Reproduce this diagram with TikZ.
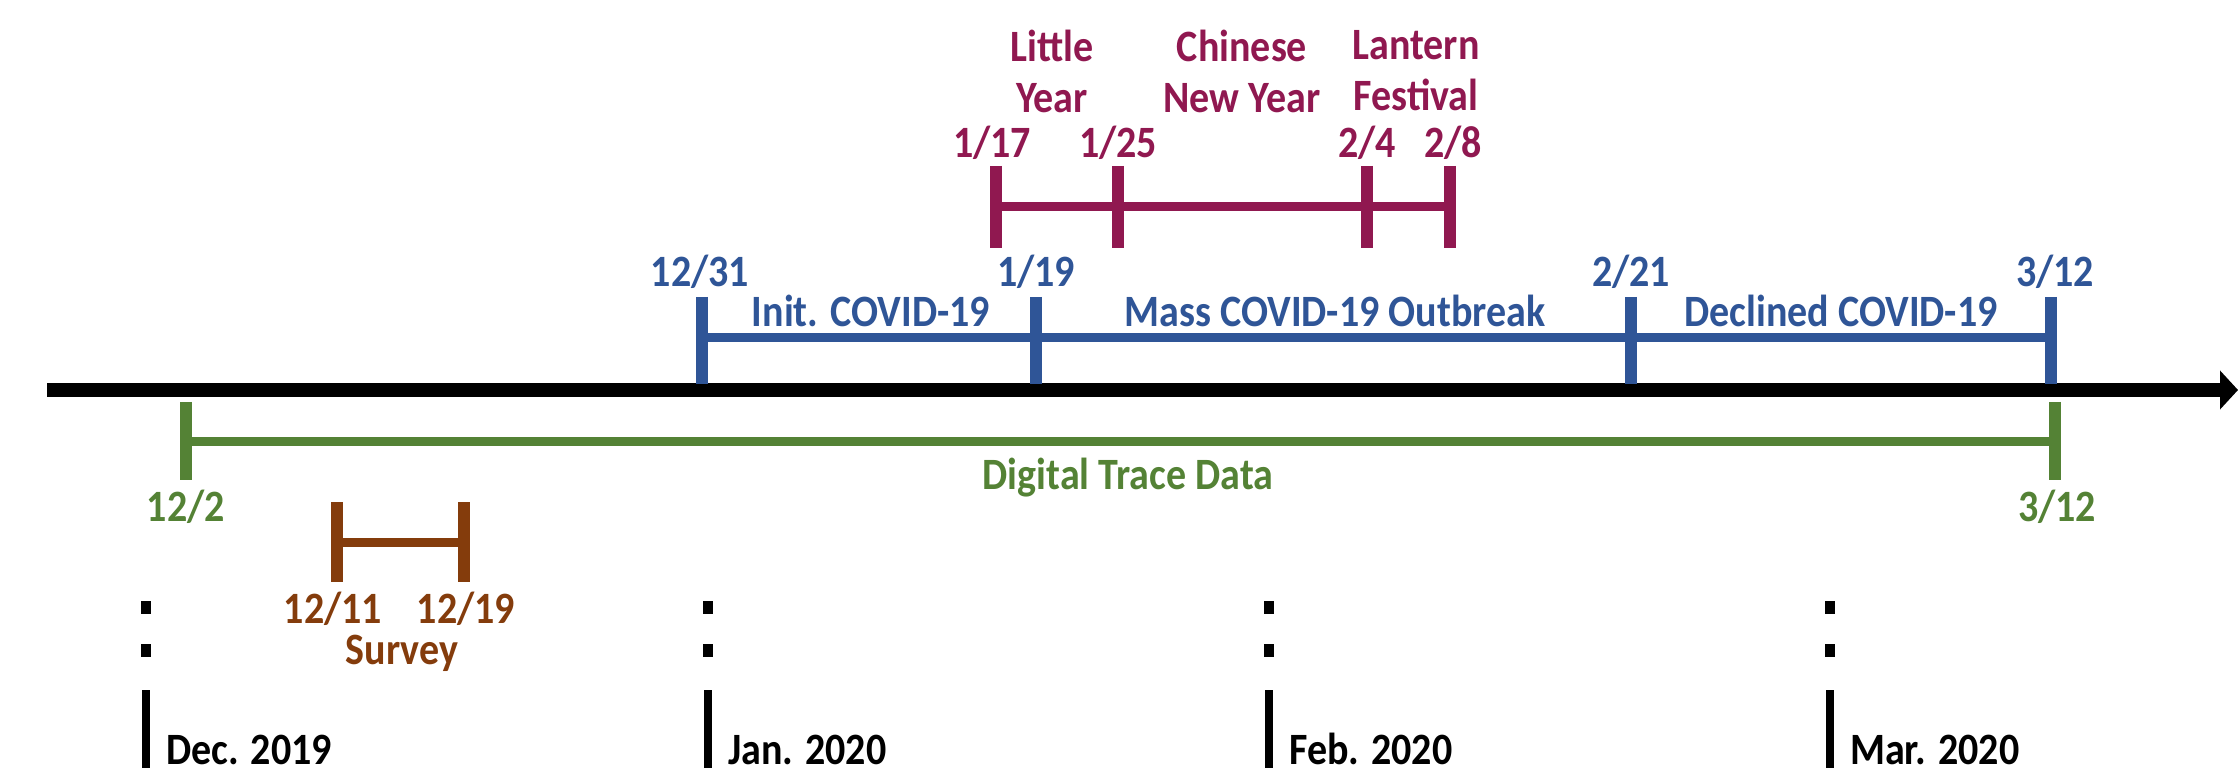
\documentclass[tikz,border=0pt]{standalone}
\usepackage{graphicx}
\usepackage{fontspec}
\setmainfont{Carlito}
\usetikzlibrary{arrows.meta}
\definecolor{cblue}{RGB}{47,85,151}
\definecolor{cpurple}{RGB}{144,24,80}
\definecolor{cgreen}{RGB}{84,130,53}
\definecolor{cbrown}{RGB}{132,60,12}
\newcommand{\vst}[1]{\scalebox{1}[1.12]{#1}}
\begin{document}
\begin{tikzpicture}[x=1pt,y=-1pt,
  lbl/.style={font=\bfseries\fontsize{40}{51}\selectfont, inner sep=0pt, align=center},
  mlbl/.style={font=\bfseries\fontsize{40}{44}\selectfont, inner sep=0pt, anchor=base west},
  tickline/.style={line width=12pt},
  spanline/.style={line width=9pt},
  monthbar/.style={line width=8pt},
  dotmark/.style={fill=black, draw=none}]
\useasboundingbox (0,0) rectangle (2238,775);

% main axis
\coordinate (axL) at (47,390);
\coordinate (axR) at (2238,390);
\draw[line width=14pt, -{Triangle[length=18pt,width=38pt]}] (axL) -- (axR);

% blue periods
\foreach \n/\x in {b1/702, b2/1036, b3/1631, b4/2051}{
  \coordinate (\n t) at (\x,297);
  \coordinate (\n b) at (\x,384);
  \coordinate (\n m) at (\x,338);
}
\draw[cblue, spanline] (b1m) -- (b4m);
\foreach \n in {b1,b2,b3,b4}{ \draw[cblue, tickline] (\n t) -- (\n b); }
\node[lbl, text=cblue] (lb1) at (700,272) {\vst{12/31}};
\node[lbl, text=cblue] (lb2) at (1036,272) {\vst{1/19}};
\node[lbl, text=cblue] (lb3) at (1631,272) {\vst{2/21}};
\node[lbl, text=cblue] (lb4) at (2055,272) {\vst{3/12}};
\node[lbl, text=cblue] (sb1) at (871,311) {\vst{Init. COVID-19}};
\node[lbl, text=cblue] (sb2) at (1335,311) {\vst{Mass COVID-19 Outbreak}};
\node[lbl, text=cblue] (sb3) at (1841,311) {\vst{Declined COVID-19}};

% purple festivals
\foreach \n/\x in {p1/996, p2/1118, p3/1367, p4/1450}{
  \coordinate (\n t) at (\x,166);
  \coordinate (\n b) at (\x,248);
  \coordinate (\n m) at (\x,207);
}
\draw[cpurple, spanline] (p1m) -- (p4m);
\foreach \n in {p1,p2,p3,p4}{ \draw[cpurple, tickline] (\n t) -- (\n b); }
\node[lbl, text=cpurple] (lp1) at (992,143) {\vst{1/17}};
\node[lbl, text=cpurple] (lp2) at (1118,143) {\vst{1/25}};
\node[lbl, text=cpurple] (lp3) at (1367,143) {\vst{2/4}};
\node[lbl, text=cpurple] (lp4) at (1453,143) {\vst{2/8}};
\node[lbl, text=cpurple] (fp1) at (1052,71) {\vst{Little}\\\vst{Year}};
\node[lbl, text=cpurple] (fp2) at (1242,71) {\vst{Chinese}\\\vst{New Year}};
\node[lbl, text=cpurple] (fp3) at (1416,71) {\vst{Lantern}\\\vst{Festival}};

% green digital trace data
\foreach \n/\x in {g1/186, g2/2055}{
  \coordinate (\n t) at (\x,402);
  \coordinate (\n b) at (\x,480);
  \coordinate (\n m) at (\x,441);
}
\draw[cgreen, spanline] (g1m) -- (g2m);
\foreach \n in {g1,g2}{ \draw[cgreen, tickline] (\n t) -- (\n b); }
\node[lbl, text=cgreen] (lg1) at (186,507) {\vst{12/2}};
\node[lbl, text=cgreen] (lg2) at (2057,507) {\vst{3/12}};
\node[lbl, text=cgreen] (sg) at (1128,478) {\vst{Digital Trace Data}};

% brown survey
\foreach \n/\x in {s1/337, s2/464}{
  \coordinate (\n t) at (\x,502);
  \coordinate (\n b) at (\x,582);
  \coordinate (\n m) at (\x,542);
}
\draw[cbrown, spanline] (s1m) -- (s2m);
\foreach \n in {s1,s2}{ \draw[cbrown, tickline] (\n t) -- (\n b); }
\node[lbl, text=cbrown] (ls1) at (333,609) {\vst{12/11}};
\node[lbl, text=cbrown] (ls2) at (466,609) {\vst{12/19}};
\node[lbl, text=cbrown] (ss) at (402,653) {\vst{Survey}};

% month markers
\foreach \n/\x/\t in {m1/146/Dec. 2019, m2/708/Jan. 2020, m3/1269/Feb. 2020, m4/1830/Mar. 2020}{
  \fill[dotmark] (\x-5,601) rectangle (\x+5,614);
  \fill[dotmark] (\x-5,644) rectangle (\x+5,657);
  \coordinate (\n t) at (\x,690);
  \coordinate (\n b) at (\x,768);
  \draw[monthbar] (\n t) -- (\n b);
  \node[mlbl] (\n l) at (\x+20,764) {\vst{\t}};
}
\end{tikzpicture}
\end{document}
